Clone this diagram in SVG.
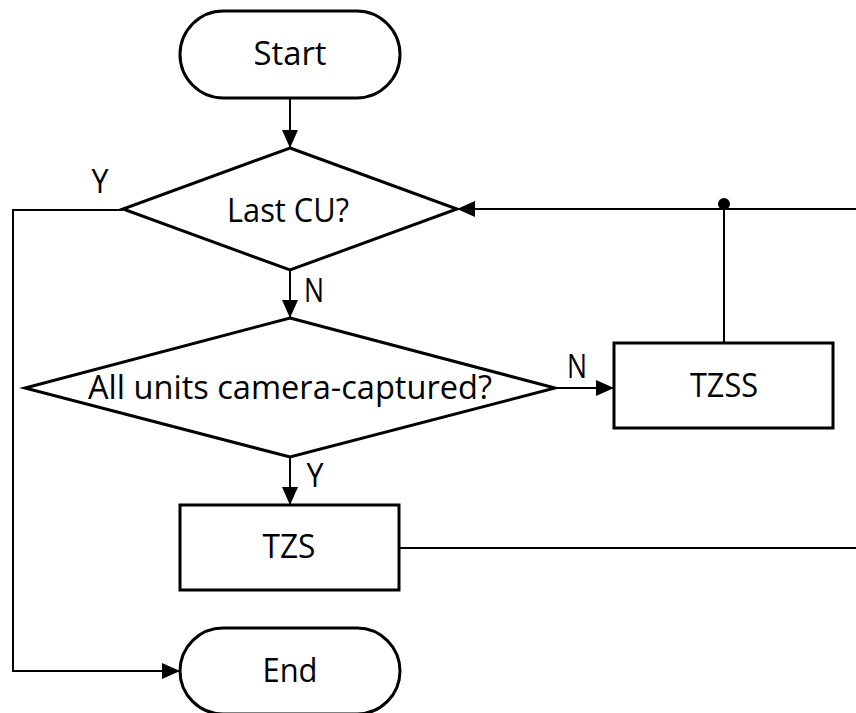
<svg xmlns="http://www.w3.org/2000/svg" width="856" height="713" viewBox="0 0 856 713">
<style>
.shape{fill:#fff;stroke:#000;stroke-width:3}
.conn{fill:none;stroke:#000;stroke-width:2}
text{font-family:"Open Sans","Liberation Sans",Arial,sans-serif;font-size:32px;fill:#000}
.c{text-anchor:middle}
</style>
<defs>
<marker id="arr" markerUnits="userSpaceOnUse" viewBox="0 0 18 16" refX="18" refY="8" markerWidth="18" markerHeight="16" orient="auto">
<path d="M0,0 L18,8 L0,16 z" fill="#000"/>
</marker>
</defs>
<rect width="856" height="713" fill="#fff"/>
<g id="connectors">
<path class="conn" d="M290,98 V148" marker-end="url(#arr)"/>
<path class="conn" d="M290,270 V318" marker-end="url(#arr)"/>
<path class="conn" d="M290,457 V505" marker-end="url(#arr)"/>
<path class="conn" d="M555,388 H614" marker-end="url(#arr)"/>
<path class="conn" d="M123,210 H13 V671 H180" marker-end="url(#arr)"/>
<path class="conn" d="M856,209 H457" marker-end="url(#arr)"/>
<path class="conn" d="M724,343 V209"/>
<circle cx="724" cy="204" r="6" fill="#000"/>
<path class="conn" d="M399,548 H856"/>
<text x="100" y="193" class="c" textLength="17" lengthAdjust="spacingAndGlyphs">Y</text>
<text x="314" y="302" class="c" textLength="20" lengthAdjust="spacingAndGlyphs">N</text>
<text x="577" y="378" class="c" textLength="20" lengthAdjust="spacingAndGlyphs">N</text>
<text x="315" y="487" class="c" textLength="17" lengthAdjust="spacingAndGlyphs">Y</text>
</g>
<g id="start">
<rect class="shape" x="180" y="11" width="220" height="87" rx="43.5"/>
<text x="290" y="65" class="c" textLength="73" lengthAdjust="spacingAndGlyphs">Start</text>
</g>
<g id="lastcu">
<polygon class="shape" points="290,148 457,209 290,270 123,209"/>
<text x="288" y="222" class="c" textLength="122" lengthAdjust="spacingAndGlyphs">Last CU?</text>
</g>
<g id="allunits">
<polygon class="shape" points="290,318 555,388 290,457 25,388"/>
<text x="290" y="399" class="c" textLength="404" lengthAdjust="spacingAndGlyphs">All units camera-captured?</text>
</g>
<g id="tzss">
<rect class="shape" x="614" y="343" width="219" height="85"/>
<text x="724" y="397" class="c" textLength="68" lengthAdjust="spacingAndGlyphs">TZSS</text>
</g>
<g id="tzs">
<rect class="shape" x="180" y="505" width="219" height="85"/>
<text x="289" y="558" class="c" textLength="53" lengthAdjust="spacingAndGlyphs">TZS</text>
</g>
<g id="end">
<rect class="shape" x="180" y="628" width="220" height="86" rx="43"/>
<text x="290" y="682" class="c" textLength="55" lengthAdjust="spacingAndGlyphs">End</text>
</g>
</svg>
